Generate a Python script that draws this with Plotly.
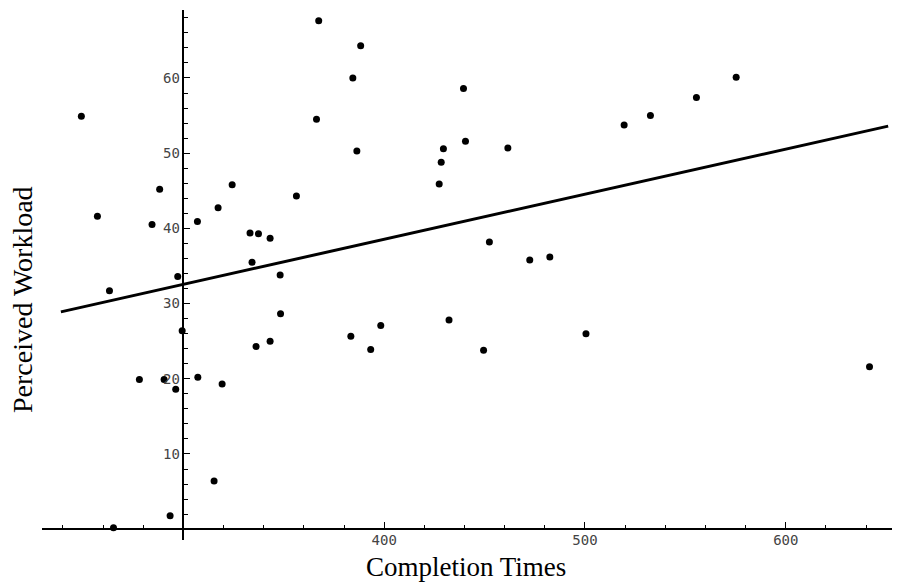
import plotly.graph_objects as go

completion_times = [249.2, 257.2, 263.2, 265.2, 278.1, 284.4, 288.2, 290.4, 293.4, 296.2,
                    297.2, 299.4, 307.0, 307.2, 315.3, 317.3, 319.3, 324.3, 333.2, 334.2,
                    336.2, 337.4, 343.2, 343.2, 348.2, 348.4, 356.3, 366.3, 367.4, 383.4,
                    384.4, 386.4, 388.3, 393.3, 398.3, 427.4, 428.4, 429.5, 432.3, 439.5,
                    440.5, 449.5, 452.4, 461.6, 472.5, 482.5, 500.5, 519.5, 532.6, 555.5,
                    575.3, 641.7]
perceived_workload = [54.9, 41.6, 31.7, 0.2, 19.9, 40.5, 45.2, 19.9, 1.8, 18.6,
                      33.6, 26.4, 40.9, 20.2, 6.4, 42.75, 19.3, 45.8, 39.4, 35.5,
                      24.3, 39.3, 38.7, 25.0, 33.8, 28.65, 44.3, 54.5, 67.6, 25.65,
                      60.0, 50.3, 64.3, 23.9, 27.1, 45.9, 48.8, 50.6, 27.8, 58.6,
                      51.6, 23.8, 38.2, 50.7, 35.8, 36.2, 26.0, 53.75, 55.0, 57.4,
                      60.1, 21.6]

fit_intercept = 14.57
fit_slope = 0.05995
fit_x = [239.0, 651.0]
fit_y = [fit_intercept + fit_slope * v for v in fit_x]

x_tickvals = [400, 500, 600]
y_tickvals = [10, 20, 30, 40, 50, 60]

W, H = 897, 587
ml, mr, mt, mb = 42, 5, 10, 47
x_range = [229.6, 652.9]
y_range = [-1.44, 69.04]
x_axis_at_y = 0
y_axis_at_x = 300

fig = go.Figure()
fig.add_trace(go.Scatter(x=fit_x, y=fit_y, mode="lines",
                         line=dict(color="black", width=3), showlegend=False,
                         hoverinfo="skip"))
fig.add_trace(go.Scatter(x=completion_times, y=perceived_workload, mode="markers",
                         marker=dict(color="black", size=7), showlegend=False))

tickfont = dict(family="DejaVu Sans Mono", size=14, color="#444444")
xpos = (x_axis_at_y - y_range[0]) / (y_range[1] - y_range[0])
ypos = (y_axis_at_x - x_range[0]) / (x_range[1] - x_range[0])

fig.update_layout(
    width=W, height=H,
    margin=dict(l=ml, r=mr, t=mt, b=mb),
    paper_bgcolor="white", plot_bgcolor="white",
    xaxis=dict(range=x_range, anchor="free", position=xpos,
               showgrid=False, zeroline=False, showline=True, linecolor="black",
               linewidth=1.5, ticks="inside", ticklen=6, tickwidth=1, tickcolor="black",
               tickvals=x_tickvals, tickfont=tickfont, ticklabelstandoff=-2,
               minor=dict(dtick=20, tick0=0, ticks="inside", ticklen=3.5,
                          tickcolor="black", tickwidth=1, showgrid=False)),
    yaxis=dict(range=y_range, anchor="free", position=ypos,
               showgrid=False, zeroline=False, showline=True, linecolor="black",
               linewidth=1.5, ticks="inside", ticklen=6, tickwidth=1, tickcolor="black",
               tickvals=y_tickvals, tickfont=tickfont,
               minor=dict(dtick=2, tick0=0, ticks="inside", ticklen=3.5,
                          tickcolor="black", tickwidth=1, showgrid=False)),
    annotations=[
        dict(text="Completion Times", xref="paper", yref="paper",
             x=(466 - ml) / (W - ml - mr), y=-(551 - (H - mb)) / (H - mt - mb),
             xanchor="center", yanchor="top", showarrow=False, borderpad=0,
             font=dict(family="Liberation Serif", size=27, color="black")),
        dict(text="Perceived Workload", xref="paper", yref="paper",
             x=(22 - ml) / (W - ml - mr), y=((H - mb) - 300) / (H - mt - mb),
             xanchor="center", yanchor="middle", showarrow=False, textangle=-90,
             font=dict(family="Liberation Serif", size=28, color="black")),
    ],
)

fig.write_html("out.html")
